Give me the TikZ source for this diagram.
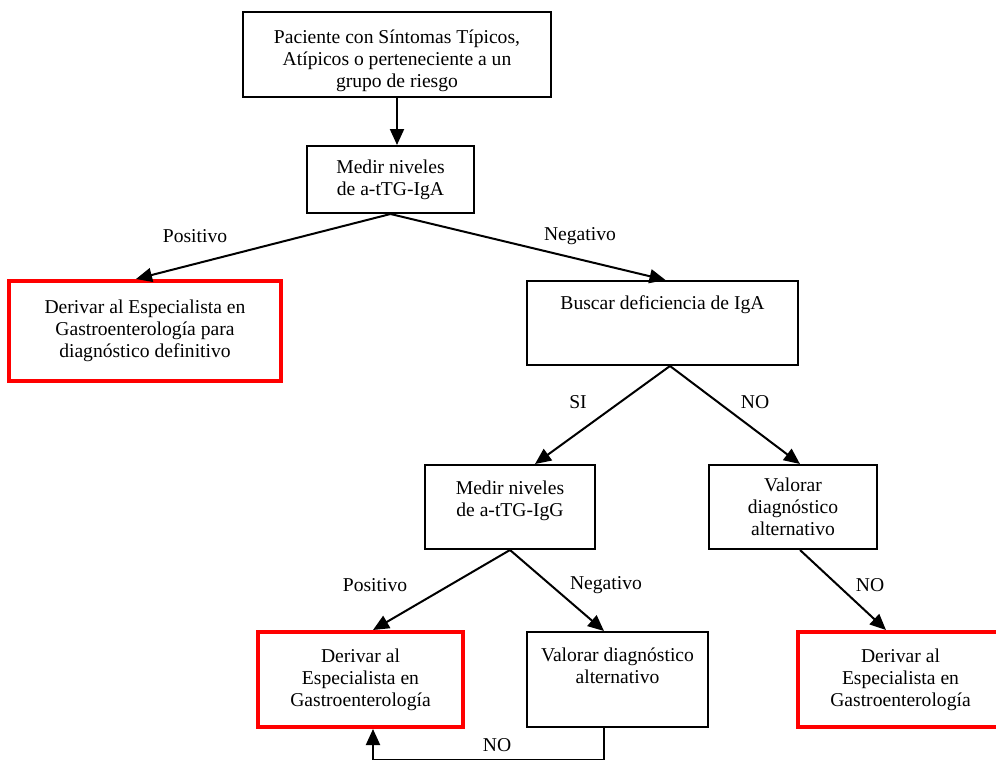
\documentclass[tikz,border=0pt]{standalone}
\usepackage{fontspec}
\setmainfont{Liberation Serif}
\usetikzlibrary{arrows.meta}
\usetikzlibrary{calc}

\begin{document}
\begin{tikzpicture}[x=0.5pt,y=-0.5pt,line width=1pt,
  font=\fontsize{9.8}{11}\selectfont,
  box/.style={draw, align=center, inner sep=0pt},
  redbox/.style={box, draw=red, line width=2pt},
  flow/.style={-{Triangle[length=8pt,width=7pt]}},
  lbl/.style={inner sep=1pt}]

  \useasboundingbox (0,0) rectangle (996,760);

  % Boxes
  \node[box, minimum width=154pt, minimum height=42.5pt] (paciente) at (397,54.5)
    {\strut\\[-6pt]Paciente con Síntomas Típicos,\\Atípicos o perteneciente a un\\grupo de riesgo};
  \node[box, minimum width=83.5pt, minimum height=33.5pt] (igA) at (390.5,179.5)
    {Medir niveles\\de a-tTG-IgA};
  \node[redbox, minimum width=136pt, minimum height=50pt] (derivarA) at (145,331)
    {Derivar al Especialista en\\Gastroenterología para\\diagnóstico definitivo};
  \node[box, minimum width=135.5pt, minimum height=42pt] (buscar) at (662.5,323)
    {Buscar deficiencia de IgA\\[9pt]\mbox{}};
  \node[box, minimum width=85pt, minimum height=42pt] (igG) at (510,507)
    {Medir niveles\\de a-tTG-IgG\\[-3pt]\mbox{}};
  \node[box, minimum width=84pt, minimum height=42pt] (alt1) at (793,507)
    {Valorar\\diagnóstico\\alternativo};
  \node[redbox, minimum width=102.5pt, minimum height=47.5pt] (derivarG) at (360.5,679.5)
    {Derivar al\\Especialista en\\Gastroenterología};
  \node[box, minimum width=90.5pt, minimum height=47.5pt] (alt2) at (617.5,679.5)
    {Valorar diagnóstico\\alternativo\\[2.5pt]\mbox{}};
  \node[redbox, minimum width=102.5pt, minimum height=47.5pt] (derivarN) at (900.5,679.5)
    {Derivar al\\Especialista en\\Gastroenterología};

  % Arrows
  \draw[flow] (paciente.south) -- (paciente.south |- igA.north);
  \draw[flow] (igA.south) -- ([xshift=-4.5pt]derivarA.north);
  \draw[flow] (igA.south) -- ([xshift=1.5pt]buscar.north);
  \draw[flow] ([xshift=3.75pt]buscar.south) -- ([xshift=12.5pt]igG.north);
  \draw[flow] ([xshift=3.75pt]buscar.south) -- ([xshift=3.5pt]alt1.north);
  \draw[flow] (igG.south) -- ([xshift=6.25pt]derivarG.north);
  \draw[flow] (igG.south) -- ([xshift=-6.75pt]alt2.north);
  \draw[flow] ([xshift=3.5pt]alt1.south) -- ([xshift=-7.25pt]derivarN.north);

  % Loop back to the specialist
  \coordinate (vuelta) at ($(derivarG.south)+(12.5,31)$);
  \draw[flow] ([xshift=-6.75pt]alt2.south) |- (vuelta) -- ([xshift=6.25pt]derivarG.south);

  % Labels
  \node[lbl] (posA) at (195,236) {Positivo};
  \node[lbl] (negA) at (580,236) {Negativo};
  \node[lbl] (si)   at (578,402) {SI};
  \node[lbl] (no1)  at (755,402) {NO};
  \node[lbl] (posG) at (375,585) {Positivo};
  \node[lbl] (negG) at (606,585) {Negativo};
  \node[lbl] (no2)  at (870,585) {NO};
  \node[lbl] (no3)  at (497,745) {NO};

\end{tikzpicture}
\end{document}
